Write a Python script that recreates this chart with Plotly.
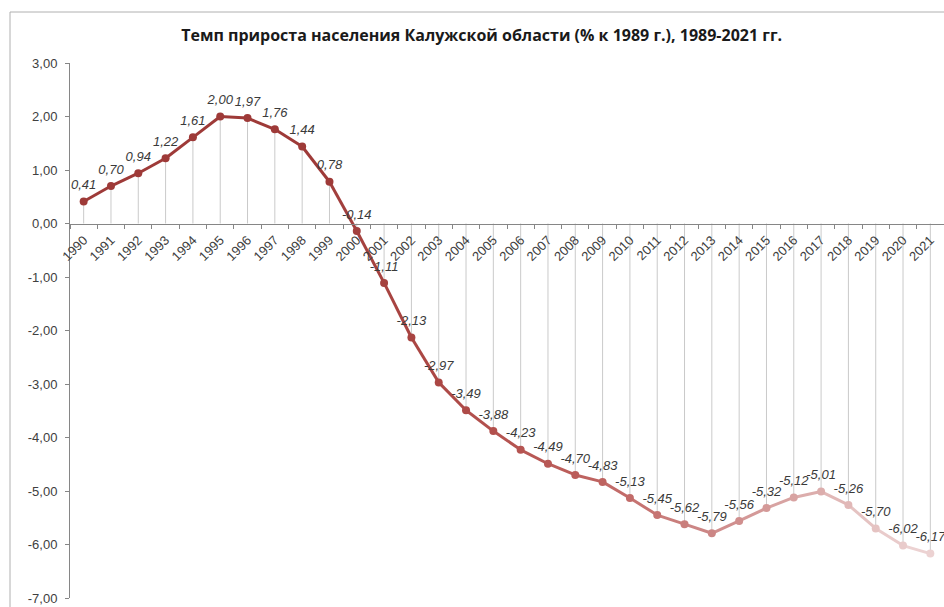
import plotly.graph_objects as go

years = [str(y) for y in range(1990, 2022)]
growth = [0.41, 0.70, 0.94, 1.22, 1.61, 2.00, 1.97, 1.76, 1.44, 0.78,
          -0.14, -1.11, -2.13, -2.97, -3.49, -3.88, -4.23, -4.49, -4.70, -4.83,
          -5.13, -5.45, -5.62, -5.79, -5.56, -5.32, -5.12, -5.01, -5.26, -5.70,
          -6.02, -6.17]
y_ticks = [3, 2, 1, 0, -1, -2, -3, -4, -5, -6, -7]
title = "Темп прироста населения Калужской области (% к 1989 г.), 1989-2021 гг."

point_colors = (["#9E3A38"] * 10 +
                ["#A23F3D", "#A5423F", "#A84441", "#AB4744", "#AE4B48",
                 "#B2504D", "#B55451", "#B85855", "#BB5D5A", "#BE6360",
                 "#C26B69", "#C67472", "#C97E7C", "#CC8685", "#D08F8E",
                 "#D49998", "#D8A3A2", "#DCADAC", "#E1B8B7", "#E5C3C2",
                 "#E9CBCB", "#ECD2D2"])

def fmt(v):
    return f"{v:.2f}".replace(".", ",")

y_min, y_max = -7, 3

fig = go.Figure()

# drop lines from each point to zero
fig.add_trace(go.Scatter(
    x=years, y=growth, mode="markers",
    marker=dict(size=1, opacity=0),
    error_y=dict(type="data", symmetric=False,
                 array=[max(-v, 0) for v in growth],
                 arrayminus=[max(v, 0) for v in growth],
                 width=0, thickness=1, color="#CACACA"),
    hoverinfo="skip", showlegend=False))

# line segments, each coloured like its end point
for i in range(1, len(years)):
    fig.add_trace(go.Scatter(
        x=years[i - 1:i + 1], y=growth[i - 1:i + 1], mode="lines",
        line=dict(color=point_colors[i], width=3),
        hoverinfo="skip", showlegend=False))

# data labels (invisible larger markers push the text a bit higher)
fig.add_trace(go.Scatter(
    x=years, y=growth, mode="markers+text",
    marker=dict(size=13, opacity=0),
    text=[fmt(v) for v in growth], textposition="top center",
    textfont=dict(family="Liberation Sans, Arial", size=13, color="#3a3a3a",
                  style="italic"),
    hoverinfo="skip", showlegend=False))

fig.add_trace(go.Scatter(
    x=years, y=growth, mode="markers",
    marker=dict(size=8, color=point_colors),
    showlegend=False))

x_pos = (0 - y_min) / (y_max - y_min)

fig.update_layout(
    width=944, height=607,
    margin=dict(l=70, r=0, t=63, b=9),
    paper_bgcolor="white", plot_bgcolor="white",
    title=dict(text="<b>" + title + "</b>", x=0.471, xref="paper",
               xanchor="center", y=1 - 35 / 607, yref="container",
               yanchor="middle",
               font=dict(family="Open Sans, Noto Sans", size=16, color="#1a1a1a")),
    xaxis=dict(type="category", anchor="free", position=x_pos,
               showline=True, linecolor="#868686", linewidth=1,
               ticks="outside", ticklen=4, tickcolor="#868686",
               tickson="boundaries", tickangle=-45, showgrid=False,
               ticklabelstandoff=3,
               tickfont=dict(family="Liberation Sans, Arial", size=13, color="#404040"),
               range=[-0.5, len(years) - 0.5], zeroline=False),
    yaxis=dict(range=[y_min, y_max], tickvals=y_ticks,
               ticktext=[fmt(v) for v in y_ticks],
               showline=True, linecolor="#868686", linewidth=1,
               ticks="outside", ticklen=4, tickcolor="#868686",
               ticklabelstandoff=5,
               showgrid=False, zeroline=False,
               tickfont=dict(family="Liberation Sans, Arial", size=13, color="#404040")),
    shapes=[
        dict(type="line", xref="paper", yref="paper",
             x0=(10 - 70) / 874, x1=(10 - 70) / 874, y0=-0.05, y1=586 / 535,
             line=dict(color="#B0B0B0", width=1)),
        dict(type="line", xref="paper", yref="paper",
             x0=(10 - 70) / 874, x1=1.05, y0=586 / 535, y1=586 / 535,
             line=dict(color="#B0B0B0", width=1)),
    ],
)

fig.write_html("out.html")
